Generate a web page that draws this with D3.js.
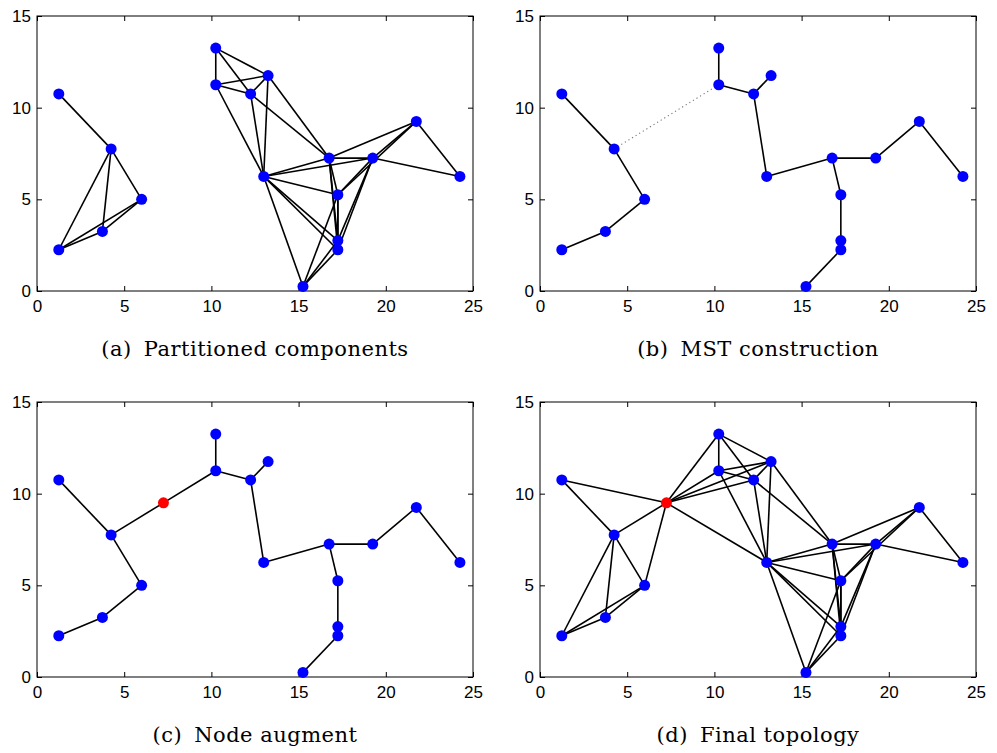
<!DOCTYPE html>
<html>
<head>
<meta charset="utf-8">
<script src="https://cdn.jsdelivr.net/npm/d3@7"></script>
<style>
  html, body { margin: 0; padding: 0; background: #fff; }
  svg { display: block; }
</style>
</head>
<body>
<svg id="chart" width="997" height="753"></svg>
<script>
// ---- data ----
const nodeIds = ["A","B","C","D","E","F","G","H","I","J","K","L","M","N","O","P","Q","R"];
const nodeX = [1.25, 4.25, 6.0, 3.75, 1.25, 10.25, 10.25, 12.25, 13.25, 13.0, 16.75, 19.25, 21.75, 24.25, 17.25, 17.25, 17.25, 15.25];
const nodeY = [10.75, 7.75, 5.0, 3.25, 2.25, 13.25, 11.25, 10.75, 11.75, 6.25, 7.25, 7.25, 9.25, 6.25, 5.25, 2.75, 2.25, 0.25];
const augId = "S";
const augX = 7.25;
const augY = 9.5;

const edgesPartitioned = [
  "A-B","B-C","B-D","B-E","C-D","C-E","D-E",
  "F-G","F-H","F-I","G-H","G-I","G-J","H-I","H-J","H-K","I-J","I-K",
  "J-K","J-L","J-O","J-P","J-Q","J-R",
  "K-L","K-M","K-O","K-P","K-Q",
  "L-M","L-N","L-O","L-P","L-Q",
  "M-N","M-O",
  "O-P","O-Q","O-R","P-Q","P-R","Q-R"
];
const edgesMST = [
  "A-B","B-C","C-D","D-E",
  "F-G","G-H","H-I","H-J","J-K","K-L","L-M","M-N","K-O","O-P","P-Q","Q-R"
];
const edgesMSTDotted = ["B-G"];
const edgesAugment = ["B-S","S-G"];
const edgesAugFinal = ["S-A","S-B","S-C","S-F","S-G","S-H","S-I","S-J"];

const xTicks = [0, 5, 10, 15, 20, 25];
const yTicks = [0, 5, 10, 15];
const captions = [
  ["(a)", "Partitioned components"],
  ["(b)", "MST construction"],
  ["(c)", "Node augment"],
  ["(d)", "Final topology"]
];

// ---- layout ----
const panels = [
  {left: 37,  top: 16,  withAug: false, edges: edgesPartitioned, dotted: [], cap: captions[0]},
  {left: 540, top: 16,  withAug: false, edges: edgesMST, dotted: edgesMSTDotted, cap: captions[1]},
  {left: 37,  top: 402, withAug: true,  edges: edgesMST.concat(edgesAugment), dotted: [], cap: captions[2]},
  {left: 540, top: 402, withAug: true,  edges: edgesPartitioned.concat(edgesAugFinal), dotted: [], cap: captions[3]}
];
const W = 436, H = 275;

const svg = d3.select("#chart");

const nodes = nodeIds.map((id, i) => ({id, x: nodeX[i], y: nodeY[i], aug: false}));
const augNode = {id: augId, x: augX, y: augY, aug: true};

panels.forEach(p => {
  const xs = d3.scaleLinear().domain([0, 25]).range([0, W]);
  const ys = d3.scaleLinear().domain([0, 15]).range([H, 0]);
  const g = svg.append("g").attr("transform", `translate(${p.left},${p.top})`);

  const all = p.withAug ? nodes.concat([augNode]) : nodes;
  const byId = new Map(all.map(n => [n.id, n]));
  const pairs = list => list.map(e => e.split("-").map(k => byId.get(k)));

  // axes (MATLAB style: inward ticks on all sides)
  const tickLen = 5;
  const axB = d3.axisBottom(xs).tickValues(xTicks).tickSize(-tickLen).tickPadding(tickLen + 4).tickFormat(d3.format("d"));
  const axT = d3.axisTop(xs).tickValues(xTicks).tickSize(-tickLen).tickFormat("");
  const axL = d3.axisLeft(ys).tickValues(yTicks).tickSize(-tickLen).tickPadding(tickLen + 1).tickFormat(d3.format("d"));
  const axR = d3.axisRight(ys).tickValues(yTicks).tickSize(-tickLen).tickFormat("");

  const styleAx = sel => {
    sel.attr("font-size", null).attr("font-family", null);
    sel.select(".domain").remove();
    sel.selectAll(".tick line").attr("stroke", "#000").attr("stroke-width", 1);
    sel.selectAll(".tick text").attr("fill", "#000")
      .style("font-family", "'Liberation Sans', Arial, Helvetica, sans-serif")
      .style("font-size", "17px");
  };
  g.append("g").attr("transform", `translate(0,${H})`).call(axB).call(styleAx);
  g.append("g").call(axT).call(styleAx);
  g.append("g").call(axL).call(styleAx);
  g.append("g").attr("transform", `translate(${W},0)`).call(axR).call(styleAx);

  g.append("rect").attr("x", 0).attr("y", 0).attr("width", W).attr("height", H)
    .attr("fill", "none").attr("stroke", "#000").attr("stroke-width", 1);

  // edges
  g.append("g").selectAll("line").data(pairs(p.dotted)).join("line")
    .attr("x1", d => xs(d[0].x)).attr("y1", d => ys(d[0].y))
    .attr("x2", d => xs(d[1].x)).attr("y2", d => ys(d[1].y))
    .attr("stroke", "#777").attr("stroke-width", 1.1).attr("stroke-dasharray", "1.2,3");

  g.append("g").selectAll("line").data(pairs(p.edges)).join("line")
    .attr("x1", d => xs(d[0].x)).attr("y1", d => ys(d[0].y))
    .attr("x2", d => xs(d[1].x)).attr("y2", d => ys(d[1].y))
    .attr("stroke", "#000").attr("stroke-width", 1.6);

  // nodes
  g.append("g").selectAll("circle").data(all).join("circle")
    .attr("cx", d => xs(d.x)).attr("cy", d => ys(d.y)).attr("r", 5.5)
    .attr("fill", d => d.aug ? "#ff0000" : "#0000ff");

  // caption
  const cap = g.append("text")
    .attr("x", W / 2).attr("y", H + 65).attr("text-anchor", "middle")
    .style("font-family", "'DejaVu Serif', 'Liberation Serif', serif")
    .style("font-size", "21px").style("letter-spacing", "0.5px").attr("fill", "#000");
  cap.append("tspan").text(p.cap[0]);
  cap.append("tspan").attr("dx", 12).text(p.cap[1]);
});
</script>
</body>
</html>
